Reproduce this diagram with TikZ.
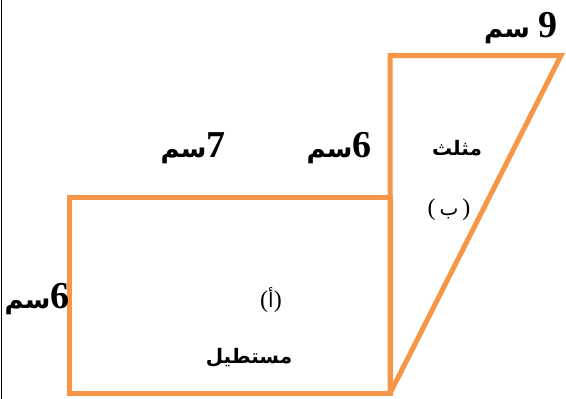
\documentclass[tikz,border=0pt]{standalone}
\usepackage{fontspec}
\setmainfont{Liberation Serif}
\newfontfamily\arabicfont[Script=Arabic]{DejaVu Sans}
\TeXXeTstate=1
\definecolor{shapeorange}{HTML}{F79646}
\newcommand\numtxt[1]{{\fontsize{38}{40}\selectfont\bfseries #1}}
\newcommand\arbbig[1]{{\arabicfont\bfseries\fontsize{26}{30}\selectfont #1}}
\newcommand\arbmid[1]{{\arabicfont\bfseries\fontsize{20}{24}\selectfont #1}}
\newcommand\arbsmall[1]{{\arabicfont\fontsize{20}{24}\selectfont #1}}
\newcommand\paren[1]{{\fontsize{24}{26}\selectfont #1}}
\tikzset{
  outline/.style={draw=shapeorange, line width=5pt},
  lbl/.style={inner sep=0pt, anchor=base},
  ctr/.style={inner sep=0pt, anchor=center}
}
\begin{document}
\begin{tikzpicture}[x=1pt,y=-1pt]
\useasboundingbox (0,0) rectangle (566,399);
\draw[black, line width=1pt] (1,0) -- (1,399);
% rectangle
\draw[outline] (69.5,197.5) rectangle (390,393.5);
% triangle
\draw[outline, line join=miter] (390,393.5) -- (390,55.5) -- (561,55.5) -- (390,393.5);
% labels
\node[lbl] (t9) at (521,37) {\beginR\numtxt{9}\hspace{9pt}\arbbig{سم}\endR};
\node[lbl] (t7) at (193,157) {\beginR\numtxt{7}\arbbig{سم}\endR};
\node[lbl] (t6) at (339,157) {\beginR\numtxt{6}\arbbig{سم}\endR};
\node[lbl] (l6) at (37,308) {\beginR\numtxt{6}\arbbig{سم}\endR};
\node[ctr] (tri) at (457,148) {\arbmid{\beginR مثلث\endR}};
\node[ctr] (trb) at (449,210) {\paren{(}\hspace{4pt}\arbsmall{ب}\hspace{4pt}\paren{)}};
\node[ctr] (ra) at (271,300) {\paren{(}\arbsmall{أ}\paren{)}};
\node[ctr] (rn) at (249,358) {\arbmid{\beginR مستطيل\endR}};
\end{tikzpicture}
\end{document}
